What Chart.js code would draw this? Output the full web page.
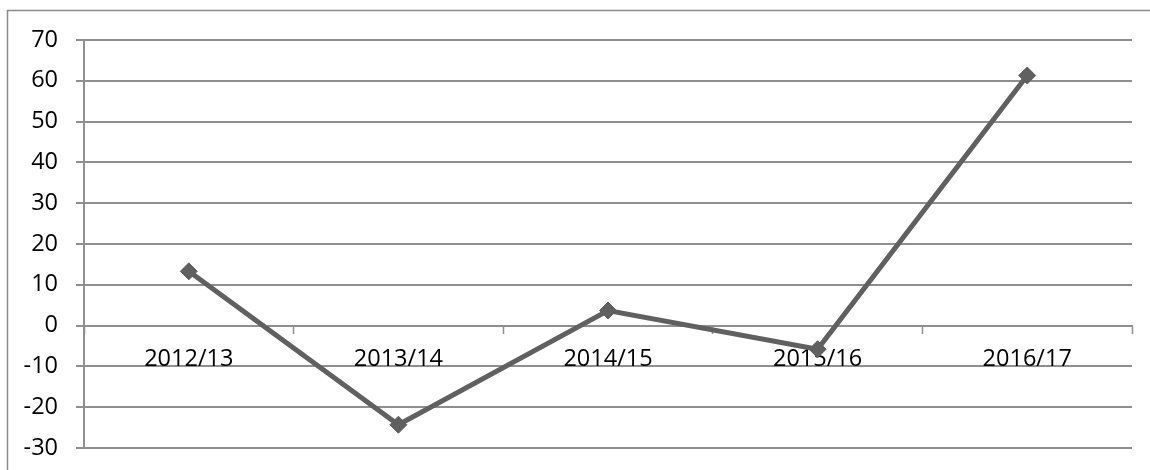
<!DOCTYPE html>
<html>
<head>
<meta charset="utf-8">
<script src="https://cdn.jsdelivr.net/npm/chart.js@4/dist/chart.umd.min.js"></script>
<style>
  html, body { margin: 0; padding: 0; background: #fff; overflow: hidden; }
  #wrap { position: relative; width: 1150px; height: 470px; }
</style>
</head>
<body>
<div id="wrap"><canvas id="c" width="1150" height="470"></canvas></div>
<script>
const categories = ["2012/13", "2013/14", "2014/15", "2015/16", "2016/17"];
const values = [13.3, -24.3, 3.7, -5.8, 61.3];
const yMin = -30, yMax = 70, yStep = 10;

const frame = {
  id: 'frame',
  beforeDraw(chart) {
    const ctx = chart.ctx;
    ctx.save();
    ctx.fillStyle = '#fff';
    ctx.fillRect(0, 0, chart.width, chart.height);
    ctx.strokeStyle = '#8a8a8a';
    ctx.lineWidth = 1.5;
    ctx.strokeRect(7.5, 10.5, 2000, 2000);
    ctx.restore();
  }
};

const font = { family: "'Open Sans', 'Liberation Sans', sans-serif", size: 23.5 };
const gridGray = '#8f8f8f';

new Chart(document.getElementById('c'), {
  type: 'line',
  data: {
    labels: categories,
    datasets: [{
      data: values,
      borderColor: '#606060',
      backgroundColor: '#606060',
      borderWidth: 5,
      pointStyle: 'rectRot',
      pointRadius: 8.5,
      pointBorderWidth: 1,
      pointBackgroundColor: '#606060',
      pointBorderColor: '#606060',
      tension: 0,
      fill: false
    }]
  },
  options: {
    responsive: false,
    animation: false,
    devicePixelRatio: 1,
    layout: { padding: { left: 0, top: 40, right: 18, bottom: 22 } },
    plugins: { legend: { display: false }, tooltip: { enabled: false } },
    scales: {
      x: {
        type: 'category',
        position: { y: 0 },
        offset: true,
        afterFit(scale) {
          scale.height = 0;
          scale.paddingTop = 0; scale.paddingBottom = 0;
          scale.paddingLeft = 0; scale.paddingRight = 0;
        },
        grid: {
          display: true,
          offset: true,
          drawOnChartArea: false,
          drawTicks: true,
          tickLength: 7,
          tickColor: gridGray,
          tickWidth: 1.5
        },
        border: { display: true, color: gridGray, width: 2 },
        ticks: { color: '#000', font: font, padding: 13, maxRotation: 0, autoSkip: false }
      },
      y: {
        position: 'left',
        min: yMin,
        max: yMax,
        afterFit(scale) {
          scale.width = 84;
          scale.paddingTop = 0; scale.paddingBottom = 0;
        },
        grid: {
          color: gridGray,
          lineWidth: 2,
          drawTicks: true,
          tickLength: 8,
          tickColor: gridGray
        },
        border: { display: true, color: gridGray, width: 2 },
        ticks: { stepSize: yStep, color: '#000', font: font, padding: 18 }
      }
    }
  },
  plugins: [frame]
});
</script>
</body>
</html>
